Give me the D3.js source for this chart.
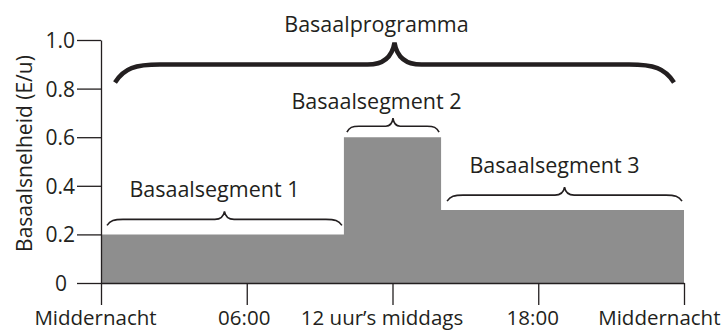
<!DOCTYPE html>
<html>
<head>
<meta charset="utf-8">
<script src="https://cdn.jsdelivr.net/npm/d3@7"></script>
<style>
  body { margin: 0; background: #fff; }
  svg text { font-family: "Open Sans", sans-serif; fill: #231f20; }
</style>
</head>
<body>
<div id="chart"></div>
<script>
// basal segments (hours of the day) and rates in E/u
const segStart = [0, 10, 14];
const segEnd = [10, 14, 24];
const segRate = [0.2, 0.6, 0.3];
const segLabels = ["Basaalsegment 1", "Basaalsegment 2", "Basaalsegment 3"];

const yTicks = [0, 0.2, 0.4, 0.6, 0.8, 1.0];
const xTicks = [0, 6, 12, 18, 24];
const xTickLabels = ["Middernacht", "06:00", "12 uur\u2019s middags", "18:00", "Middernacht"];

const programLabel = "Basaalprogramma";
const yTitle = "Basaalsnelheid (E/u)";

const W = 724, H = 331;
const ink = "#231f20";
const fontSize = 21;

const svg = d3.select("#chart").append("svg")
  .attr("width", W)
  .attr("height", H);

const x = d3.scaleLinear().domain([0, 24]).range([101, 684]);
const y = d3.scaleLinear().domain([0, 1]).range([283, 40]);

// step area for the basal rate
const pts = segStart.map((s, i) => [s, segRate[i]]);
pts.push([segEnd[segEnd.length - 1], segRate[segRate.length - 1]]);

const area = d3.area()
  .x(d => x(d[0]))
  .y0(y(0))
  .y1(d => y(d[1]))
  .curve(d3.curveStepAfter);

svg.append("path")
  .datum(pts)
  .attr("d", area)
  .attr("fill", "#8e8e8e");

// y axis
const yAxis = svg.append("g")
  .attr("transform", `translate(${x(0)},0)`)
  .call(d3.axisLeft(y)
    .tickValues(yTicks)
    .tickSize(24)
    .tickSizeOuter(0)
    .tickPadding(2)
    .tickFormat(d => d === 0 ? "0" : d.toFixed(1)));

// x axis
const xAxis = svg.append("g")
  .attr("transform", `translate(0,${y(0)})`)
  .call(d3.axisBottom(x)
    .tickValues(xTicks)
    .tickSize(22)
    .tickSizeOuter(0)
    .tickFormat((d, i) => xTickLabels[i]));

[yAxis, xAxis].forEach(g => {
  g.selectAll("path.domain").attr("stroke", ink).attr("stroke-width", 1.3);
  g.selectAll(".tick line").attr("stroke", ink).attr("stroke-width", 1.3);
  g.selectAll("text")
    .style("font-family", "'Open Sans', sans-serif")
    .style("font-size", fontSize + "px")
    .attr("fill", ink);
});

yAxis.selectAll(".tick text").attr("dy", "0.36em");
yAxis.selectAll(".tick text").filter(d => d === 0).attr("dx", -8);

xAxis.selectAll(".tick text")
  .style("font-size", "20.5px")
  .attr("y", 42)
  .attr("dy", 0)
  .attr("dx", (d, i) => i === 2 ? -11 : (i === 1 ? -3 : (i === 0 ? -6 : (i === 3 ? -6 : 0))))
  .attr("text-anchor", (d, i) => i === xTicks.length - 1 ? "end" : "middle")
  .filter((d, i) => i === xTicks.length - 1)
  .attr("dx", 36);

// y title
svg.append("text")
  .attr("transform", `translate(32,${(y(0) + y(1)) / 2 - 8}) rotate(-90)`)
  .attr("text-anchor", "middle")
  .style("font-size", fontSize + "px")
  .text(yTitle);

// curly brace path between x0 and x1, feet at yEnd, bar at yEnd - a, tip at yEnd - h
function brace(x0, x1, yEnd, a, h, r) {
  const yb = yEnd - a, yt = yEnd - h, xm = (x0 + x1) / 2;
  const t = r * 0.6;
  return `M${x0},${yEnd}` +
    `C${x0 + r * 0.2},${yb + a * 0.2} ${x0 + r * 0.45},${yb} ${x0 + r},${yb}` +
    `L${xm - t},${yb}` +
    `C${xm - t * 0.35},${yb} ${xm - t * 0.08},${yb - (h - a) * 0.4} ${xm},${yt}` +
    `C${xm + t * 0.08},${yb - (h - a) * 0.4} ${xm + t * 0.35},${yb} ${xm + t},${yb}` +
    `L${x1 - r},${yb}` +
    `C${x1 - r * 0.45},${yb} ${x1 - r * 0.2},${yb + a * 0.2} ${x1},${yEnd}`;
}

// programme brace
svg.append("path")
  .attr("d", brace(x(0) + 14, x(24) - 10, y(0.825), 18, 40, 45))
  .attr("fill", "none")
  .attr("stroke", ink)
  .attr("stroke-width", 4.5);

svg.append("text")
  .attr("x", (x(0) + x(24)) / 2 - 16)
  .attr("y", 32)
  .attr("text-anchor", "middle")
  .style("font-size", "21.5px")
  .text(programLabel);

// segment braces
const segG = svg.selectAll("g.seg")
  .data(segRate)
  .join("g")
  .attr("class", "seg");

const segGap = [9, 5, 9];
segG.append("path")
  .attr("d", (d, i) => brace(x(segStart[i]) + (i === 1 ? 3 : 6), x(segEnd[i]) - 2,
    y(d) - segGap[i], 6, 14, i === 1 ? 12 : 16))
  .attr("fill", "none")
  .attr("stroke", ink)
  .attr("stroke-width", 1.6);

segG.append("text")
  .attr("x", (d, i) => (x(segStart[i]) + x(segEnd[i])) / 2 + (i === 1 ? -16 : -8))
  .attr("y", (d, i) => y(d) - segGap[i] - (i === 1 ? 23 : 28))
  .attr("text-anchor", "middle")
  .style("font-size", "21.5px")
  .text((d, i) => segLabels[i]);
</script>
</body>
</html>
